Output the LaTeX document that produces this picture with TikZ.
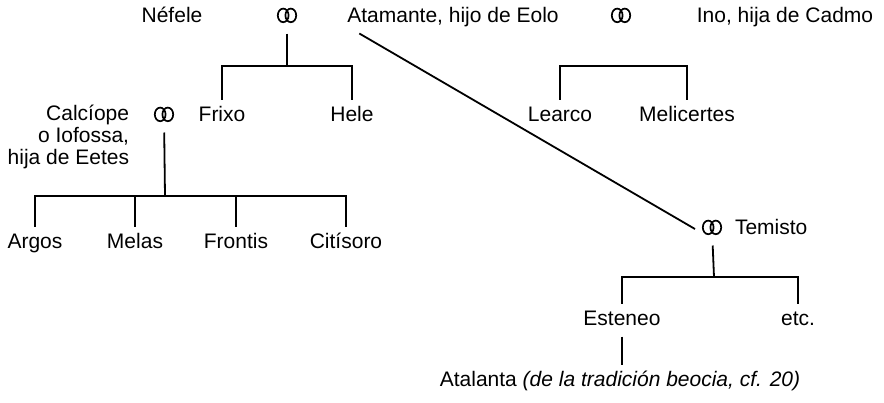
\documentclass[tikz,border=0pt]{standalone}
\usepackage{fontspec}
\setmainfont{Liberation Sans}
\usetikzlibrary{positioning}

\begin{document}
\begin{tikzpicture}[x=0.5pt, y=-0.5pt, line width=0.9pt,
  person/.style = {inner sep=0pt, outer sep=3pt, text height=8pt, text depth=2.5pt, font=\fontsize{10.5}{11}\selectfont},
  rings/.style = {person, minimum width=11pt, path picture={
      \draw[line width=0.85pt] ([xshift=-1.9pt, yshift=0.8pt]path picture bounding box.center) ellipse (2.7pt and 3.4pt);
      \draw[line width=0.85pt] ([xshift=1.9pt, yshift=0.8pt]path picture bounding box.center) ellipse (2.7pt and 3.4pt);}}]
          \useasboundingbox (0,0) rectangle (884,402);
          \node[person](nefele) at (172,17) {Néfele};
          \node[rings](m1) at (287,17) {};
          \node[person](atamante) at (453,17) {Atamante, hijo de Eolo};
          \node[rings](m2) at (621,17) {};
          \node[person](ino) at (785,17) {Ino, hija de Cadmo};
          \node[person](frixo) at (222,116) {Frixo};
          \node[person](hele) at (352,116) {Hele};
          \node[person](learco) at (560,116) {Learco};
          \node[person](melicertes) at (687,116) {Melicertes};
          \node[inner sep=0pt, align=right, anchor=north east, font=\fontsize{10.5}{11}\selectfont](calciope) at (130,104) {Calcíope\\o Iofossa,\\hija de Eetes};
          \node[rings](m3) at (164,116) {};
          \node[person](argos) at (35,243) {Argos};
          \node[person](melas) at (135,243) {Melas};
          \node[person](frontis) at (236,243) {Frontis};
          \node[person](citisoro) at (346,243) {Citísoro};
          \node[rings](m4) at (712,229) {};
          \node[person](temisto) [right=0pt of m4] {Temisto};
          \node[person](esteneo) at (622,320) {Esteneo};
          \node[person](etc) at (798,320) {etc.};
          \node[person](atalanta) at (620,381) {Atalanta \textit{(de la tradición beocia, cf. 20)}};
          \coordinate (bar1) at (287,66);
          \coordinate (bar2) at (165,196);
          \coordinate (bar3) at (621,66);
          \coordinate (bar4) at (714,277);
          \draw (m1) -- (bar1);
          \draw (frixo.north) |- (bar1) -| (hele.north);
          \draw (learco.north) |- (bar3) -| (melicertes.north);
          \draw (m3) -- (bar2);
          \draw (argos.north) |- (bar2) -| (citisoro.north);
          \draw (melas.north) -- (melas.north |- bar2);
          \draw (frontis.north) -- (frontis.north |- bar2);
          \draw ([xshift=9pt]atamante.south west) -- (m4.west);
          \draw (m4) -- (bar4);
          \draw (esteneo.north) |- (bar4) -| (etc.north);
          \draw (esteneo.south) -- (esteneo.south |- atalanta.north);
        \end{tikzpicture}
\end{document}
